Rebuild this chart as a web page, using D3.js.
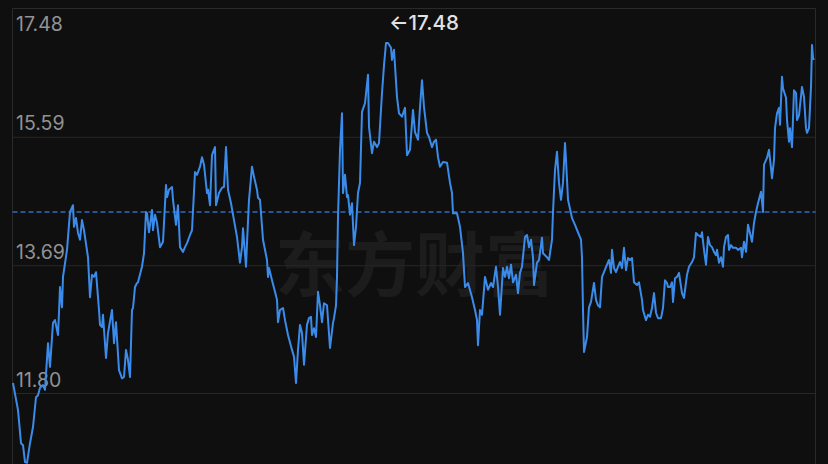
<!DOCTYPE html>
<html><head><meta charset="utf-8">
<script src="https://cdn.jsdelivr.net/npm/d3@7/dist/d3.min.js"></script>
<style>html,body{margin:0;padding:0;background:#0f0f0f;}svg{display:block;}</style>
</head><body><div id="chart"></div>
<script>
// trading-day offsets (approximate)
const day = [0,5,8,10,12,14,17,20,23,25,27,30,32,35,37,40,42,45,46,47,49,50,54,57,60,61,63,65,67,69,71,75,77,79,81,83,86,87,89,90,93,95,99,101,103,106,109,111,113,115,117,119,120,122,124,125,129,131,133,134,136,139,140,142,144,147,150,153,154,156,159,160,163,165,167,170,172,174,177,179,182,184,187,189,191,194,195,197,199,202,203,206,209,211,213,215,218,220,224,227,229,230,233,234,236,239,241,244,245,247,250,254,255,256,259,262,264,265,267,270,272,275,279,281,283,285,287,289,291,294,296,298,299,301,303,305,307,309,311,314,317,320,321,323,324,325,327,329,330,332,334,335,337,339,341,343,345,347,349,352,355,356,359,361,364,366,369,371,373,375,378,379,381,384,386,389,392,394,397,400,402,405,407,409,411,414,416,419,421,423,425,427,430,434,437,439,440,444,447,450,452,455,459,462,464,465,467,469,472,475,478,480,483,485,487,490,492,494,496,498,500,503,505,507,509,512,514,516,518,520,521,524,526,529,530,534,536,539,540,542,544,546,548,550,552,553,555,559,562,565,568,569,570,571,574,576,578,581,583,585,587,589,591,594,596,598,599,601,603,605,607,609,611,613,615,617,619,621,624,626,629,630,633,635,637,639,641,643,645,648,650,652,654,655,657,659,660,662,664,666,669,671,674,676,679,681,683,685,688,689,691,693,695,697,699,701,703,704,706,708,710,711,713,715,716,718,720,723,725,728,729,731,733,735,737,739,741,743,745,748,750,751,754,756,758,759,761,762,764,766,767,769,770,773,774,776,777,779,781,783,784,786,789,791,793,794,796,798,799,800,801];
// closing prices
const close = [11.94,11.54,11.05,11.02,10.77,10.76,11.05,11.29,11.73,11.76,11.87,11.91,11.84,12.53,12.18,12.83,12.87,12.65,12.98,13.36,13.06,13.51,13.91,14.47,14.57,14.25,14.38,14.16,14.06,14.35,14.20,13.80,13.21,13.54,13.51,13.58,13.02,12.80,12.77,12.95,12.31,12.68,13.02,12.53,12.84,12.13,12.01,12.03,12.43,12.28,12.03,13.02,13.05,13.36,13.42,13.43,13.66,13.86,14.47,14.45,14.17,14.50,14.20,14.43,14.31,13.95,14.03,14.87,14.69,14.80,14.84,14.65,14.28,14.57,13.95,13.88,13.95,14.01,14.13,14.20,15.06,15.02,15.14,15.28,15.17,14.75,14.80,14.57,15.31,15.43,14.57,14.75,14.83,14.84,15.43,14.80,14.60,14.43,14.10,13.72,13.95,14.23,13.66,14.01,14.65,15.14,14.99,14.80,14.68,14.65,14.06,13.76,13.51,13.64,13.46,13.29,13.17,12.84,13.02,13.05,12.87,12.65,12.43,12.33,11.94,12.43,12.80,12.68,12.21,12.80,12.90,12.92,12.65,12.75,12.62,13.29,13.09,12.84,13.12,13.09,12.46,12.83,12.90,13.09,13.51,14.40,15.39,15.93,14.75,15.02,14.69,14.72,14.43,14.60,13.98,14.25,14.75,14.90,15.95,16.08,16.50,15.73,15.34,15.51,15.43,15.49,16.23,16.64,16.97,16.97,16.90,16.72,16.87,16.17,15.93,15.88,16.01,15.31,15.39,15.98,15.65,15.54,16.02,16.42,16.02,15.64,15.58,15.43,15.51,15.54,15.28,15.14,15.21,15.20,14.90,14.75,14.45,14.45,14.25,13.86,13.36,13.42,13.21,13.02,12.87,12.50,13.02,12.95,13.51,13.32,13.42,13.36,13.66,13.36,12.95,13.64,13.51,13.66,13.49,13.69,13.43,13.54,13.27,13.57,13.66,14.10,14.13,13.95,14.06,13.80,13.39,13.72,13.76,14.09,13.86,13.80,13.76,14.06,14.47,15.09,15.36,14.90,14.65,14.90,15.49,15.24,14.65,14.38,14.28,14.17,14.06,13.80,13.02,12.40,12.62,13.06,13.14,13.42,13.17,13.09,13.06,13.51,13.58,13.69,13.76,13.57,13.91,13.64,13.58,13.66,13.73,13.64,13.94,13.61,13.79,13.76,13.79,13.43,13.39,13.43,13.17,13.02,12.87,12.95,12.92,13.05,13.27,12.98,12.90,12.90,13.05,13.46,13.42,13.36,13.36,13.43,13.14,13.49,13.51,13.57,13.27,13.20,13.54,13.66,13.73,13.80,14.16,14.13,14.10,14.17,13.91,13.69,14.10,13.98,13.95,13.88,13.83,13.91,13.72,13.80,13.66,13.95,14.10,14.13,13.91,13.98,13.94,13.94,13.91,13.94,13.80,14.03,13.88,14.28,14.16,14.03,14.31,14.47,14.60,14.77,14.47,15.17,15.27,15.39,15.12,14.97,15.24,15.71,15.93,16.01,15.76,16.47,16.30,16.16,15.83,15.51,15.71,15.43,16.27,16.23,15.83,15.90,16.32,16.17,15.71,15.64,15.71,16.32,16.94,16.75,16.72];
const tickLabels = ["17.48","15.59","13.69","11.80"];
const tickValues = [17.48, 15.59, 13.69, 11.80];
const refLevel = [14.47];
const maxLabel = ["←17.48"];
const watermark = ["东方财富"];

const W = 828, H = 464;
const L = 12.5, R = 815.5, T = 8.5;
const svg = d3.select("#chart").append("svg").attr("width", W).attr("height", H);
svg.append("rect").attr("width", W).attr("height", H).attr("fill", "#0f0f0f");

const x = d3.scaleLinear().domain([0, 801]).range([13, 814]);
const y = d3.scaleLinear().domain([11.80, 17.48]).range([392.5, 8.5]);

// watermark
svg.append("text").data(watermark).attr("x", 275).attr("y", 291)
  .attr("font-family", "'Noto Sans CJK SC'").attr("font-weight", 700)
  .attr("font-size", 70).attr("fill", "#1c1c1c").text(d => d);

// gridlines via axis
const grid = svg.append("g").attr("transform", `translate(${L},0)`)
  .call(d3.axisRight(y).tickValues(tickValues.slice(1)).tickSize(R - L).tickFormat(""));
grid.select(".domain").remove();
grid.selectAll(".tick line").attr("stroke", "#272727").attr("stroke-width", 1)
  .attr("transform", "translate(0,0.5)");

// frame
svg.append("path").attr("d", `M${L},${H}V${T}H${R}V${H}`)
  .attr("fill", "none").attr("stroke", "#2a2a2a").attr("stroke-width", 1);

// labels
svg.selectAll("text.ylab").data(tickValues).join("text").attr("class", "ylab")
  .attr("x", 16)
  .attr("y", (d, i) => i === 0 ? y(d) + 22.5 : y(d) - 6)
  .attr("font-family", "Inter, 'Noto Sans', sans-serif").attr("font-size", 19.5)
  .attr("fill", "#929292").text((d, i) => tickLabels[i]);

// reference dashed line
svg.selectAll("line.ref").data(refLevel).join("line").attr("class", "ref")
  .attr("x1", L).attr("x2", R).attr("y1", d => y(d)).attr("y2", d => y(d))
  .attr("stroke", "#2f6cbd").attr("stroke-width", 1.5).attr("stroke-dasharray", "5,3");

// price line
const pts = day.map((d, i) => [d, close[i]]);
svg.append("path").datum(pts)
  .attr("fill", "none").attr("stroke", "#3b8cea").attr("stroke-width", 2)
  .attr("stroke-linejoin", "round")
  .attr("d", d3.line().x(d => x(d[0])).y(d => y(d[1])));

// max annotation
svg.append("text").data(maxLabel).attr("x", 389).attr("y", 30)
  .attr("font-family", "Inter, 'Noto Sans', sans-serif").attr("font-size", 20.5)
  .attr("font-weight", 500).attr("fill", "#e2e2e2").text(d => d);
</script></body></html>
